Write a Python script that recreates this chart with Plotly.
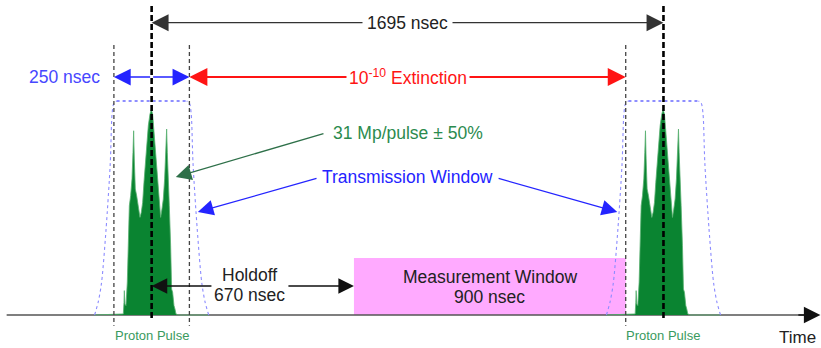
import plotly.graph_objects as go

# ---- timing (nsec) ----
PULSE_CENTERS_NS = [0, 1695]
PERIOD_NS = 1695
WINDOW_NS = 250
HOLDOFF_NS = 670
MEASURE_NS = 900

# ---- proton pulse profile: offset from pulse centre (nsec) and relative height ----
PULSE_OFFSET_NS = [-189, -93.8, -91.6, -90.5, -88.3, -85.0, -80.6, -77.2, -73.9, -69.5,
                   -65.1, -61.8, -59.6, -57.4, -54.1, -49.7, -44.1, -38.6, -34.2, -29.8,
                   -25.4, -21.0, -16.6, -11.0, -5.5, -1.1, 3.3, 7.7, 12.1, 16.6,
                   21.0, 25.4, 29.8, 34.2, 38.6, 43.0, 47.5, 49.7, 51.9, 55.2,
                   58.5, 62.9, 66.2, 69.5, 71.7, 74.0, 77.2, 80.6, 88.3, 189]
PULSE_LEVEL = [0, 0.005, 0.059, 0.114, 0.051, 0.044, 0.153, 0.371, 0.511, 0.558,
               0.636, 0.760, 0.861, 0.729, 0.589, 0.558, 0.495, 0.456, 0.480, 0.526,
               0.620, 0.713, 0.791, 0.885, 0.939, 0.960, 0.939, 0.854, 0.760, 0.682,
               0.604, 0.511, 0.456, 0.495, 0.542, 0.636, 0.776, 0.869, 0.760, 0.589,
               0.511, 0.324, 0.121, 0.106, 0.059, 0.044, 0.028, 0.005, 0, 0]

# ---- transmission window outline: offset from pulse centre (nsec) and relative level ----
WINDOW_SIDE_OFFSET_NS = [189, 177, 166, 151, 137, 131, 125, 116]
WINDOW_SIDE_LEVEL = [0, 0.06, 0.15, 0.40, 0.71, 0.94, 0.99, 1.0]

# ---- layout of the drawing (relative level units) ----
Y_PERIOD = 1.366
Y_WINDOW = 1.112
Y_HOLDOFF = 0.1355
MEASURE_HEIGHT = 0.266
X_RANGE = [-502.2, 2216.7]
Y_RANGE = [-0.1542, 1.472]

FONT = "Liberation Sans, Arial, sans-serif"
BLUE = "#2424FF"
RED = "#FF1414"
GREEN_TXT = "#2B8B4E"
GREEN_ARROW = "#2E7049"
PULSE_GREEN = "#0A8431"

fig = go.Figure()

t0, t1 = PULSE_CENTERS_NS
half = WINDOW_NS / 2
meas_start = t0 + HOLDOFF_NS
meas_end = meas_start + MEASURE_NS

# measurement window box
fig.add_shape(type="rect", x0=meas_start, x1=meas_end, y0=0, y1=MEASURE_HEIGHT,
              fillcolor="#FFAAFF", line=dict(width=0), layer="below")

# time axis line
fig.add_trace(go.Scatter(x=[X_RANGE[0] + 22, X_RANGE[1] - 20], y=[0, 0], mode="lines",
                         line=dict(color="#555555", width=1.5), hoverinfo="skip"))

for c in PULSE_CENTERS_NS:
    # proton pulse
    fig.add_trace(go.Scatter(x=[c + d for d in PULSE_OFFSET_NS], y=PULSE_LEVEL,
                             mode="lines", fill="tozeroy", fillcolor=PULSE_GREEN,
                             line=dict(color="#58B070", width=0.8), hoverinfo="skip"))
    # transmission window: dotted flat top, dashed sides
    top = WINDOW_SIDE_OFFSET_NS[-1]
    fig.add_trace(go.Scatter(x=[c - top, c + top], y=[1.0, 1.0], mode="lines",
                             line=dict(color="#6A6AFF", width=1.3, dash="dot"),
                             hoverinfo="skip"))
    for sgn in (-1, 1):
        fig.add_trace(go.Scatter(x=[c + sgn * d for d in WINDOW_SIDE_OFFSET_NS],
                                 y=WINDOW_SIDE_LEVEL, mode="lines",
                                 line=dict(color="#8C8CFF", width=1.1, dash="3px,3px",
                                           shape="spline", smoothing=0.8),
                                 hoverinfo="skip"))

# window edge markers (thin dashed)
for xe in [t0 - half, t0 + half, t1 - half]:
    fig.add_trace(go.Scatter(x=[xe, xe], y=[1.262, -0.05], mode="lines",
                             line=dict(color="#444444", width=1.3, dash="4px,3px"),
                             hoverinfo="skip"))

# pulse centre markers (thick dashed)
for c in PULSE_CENTERS_NS:
    fig.add_trace(go.Scatter(x=[c, c], y=[1.444, -0.024], mode="lines",
                             line=dict(color="#000000", width=2.6, dash="6px,3px"),
                             hoverinfo="skip"))

ann = []


def arrow(x, y, ax, ay, color, width, size=1.0, head=2):
    ann.append(dict(x=x, y=y, ax=ax, ay=ay, xref="x", yref="y", axref="x", ayref="y",
                    text="", showarrow=True, arrowhead=head, arrowsize=size,
                    arrowwidth=width, arrowcolor=color, standoff=0, startstandoff=0))


def label(x, y, text, color, size=17.5, bg=None, pad=1, yanchor="middle"):
    d = dict(x=x, y=y, xref="x", yref="y", text=text, showarrow=False, yanchor=yanchor,
             font=dict(family=FONT, size=size, color=color), borderpad=pad)
    if bg:
        d["bgcolor"] = bg
    ann.append(d)


# pulse period
mid = (t0 + t1) / 2
arrow(t0, Y_PERIOD, mid, Y_PERIOD, "#333333", 1.3, 2.6)
arrow(t1, Y_PERIOD, mid, Y_PERIOD, "#333333", 1.3, 2.6)
label(mid, Y_PERIOD, f"{PERIOD_NS} nsec", "#222222", bg="white", pad=4)

# transmission window width
arrow(t0 - half, Y_WINDOW, t0, Y_WINDOW, BLUE, 1.4, 2.4)
arrow(t0 + half, Y_WINDOW, t0, Y_WINDOW, BLUE, 1.4, 2.4)
label(-290, Y_WINDOW, f"{WINDOW_NS} nsec", "#4747FF")

# extinction span
arrow(t0 + half, Y_WINDOW, mid, Y_WINDOW, RED, 2.0, 1.8)
arrow(t1 - half, Y_WINDOW, mid, Y_WINDOW, RED, 2.0, 1.8)
label(mid, Y_WINDOW, "10<sup>-10</sup> Extinction", RED, bg="white", pad=2)

# pulse intensity callout
arrow(80, 0.645, 574, 0.850, GREEN_ARROW, 1.3, 2.4)
label(mid, 0.850, "31 Mp/pulse ± 50%", GREEN_TXT, bg="white", pad=2)

# transmission window callout
arrow(153, 0.481, 551, 0.640, BLUE, 1.3, 2.4)
arrow(1542, 0.481, 1144, 0.640, BLUE, 1.3, 2.4)
label(mid, 0.645, "Transmission Window", BLUE, bg="white", pad=2)

# holdoff
arrow(t0, Y_HOLDOFF, 203, Y_HOLDOFF, "#111111", 1.3, 2.4)
arrow(meas_start, Y_HOLDOFF, 448, Y_HOLDOFF, "#111111", 1.3, 2.4)
label(325, 0.187, "Holdoff", "#222222")
label(325, 0.093, f"{HOLDOFF_NS} nsec", "#222222")

# measurement window text
meas_mid = (meas_start + meas_end) / 2
label(meas_mid, 0.178, "Measurement Window", "#222222")
label(meas_mid, 0.084, f"{MEASURE_NS} nsec", "#222222")

# pulse labels
for c in PULSE_CENTERS_NS:
    label(c, -0.098, "Proton Pulse", "#3A9A5E", size=13)

# time axis arrowhead and label
arrow(X_RANGE[1] - 2, 0, X_RANGE[1] - 80, 0, "#111111", 1.5, 2.2)
label(2140, -0.152, "Time", "#222222", size=17, pad=0, yanchor="bottom")

fig.update_layout(
    annotations=ann,
    width=821, height=348,
    margin=dict(l=0, r=0, t=0, b=0),
    paper_bgcolor="white", plot_bgcolor="white",
    showlegend=False,
    font=dict(family=FONT),
    xaxis=dict(range=X_RANGE, visible=False, fixedrange=True),
    yaxis=dict(range=Y_RANGE, visible=False, fixedrange=True),
)

fig.write_html("out.html")
